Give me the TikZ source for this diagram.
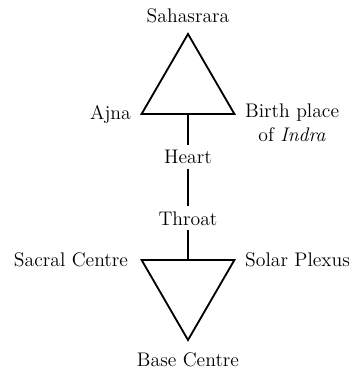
\documentclass[tikz,border=0pt]{standalone}
\usetikzlibrary{positioning}

\begin{document}
\begin{tikzpicture}[font=\fontsize{14}{17}\selectfont, line width=1.3pt,
  chakra/.style={inner sep=3pt}]
\useasboundingbox (0,0) rectangle (8.925,9.25);
% Corners of the two triangles
\coordinate (sah) at (4.7,8.4);
\coordinate (ajna) at (3.54,6.4);
\coordinate (indra) at (5.86,6.4);
\coordinate (sacral) at (3.54,2.75);
\coordinate (solar) at (5.86,2.75);
\coordinate (base) at (4.7,0.75);
\coordinate (upmid) at (4.7,6.4);
\coordinate (lowmid) at (4.7,2.75);

% Triangles
\draw (sah) -- (ajna) -- (indra) -- cycle;
\draw (sacral) -- (solar) -- (base) -- cycle;

% Centres on the axis
\node[chakra] (heart) at (4.7,5.325) {Heart};
\node[chakra] (throat) at (4.7,3.79) {Throat};
\draw (upmid) -- (heart);
\draw (heart) -- (throat);
\draw (throat) -- (lowmid);

% Corner labels
\node[chakra, above=4pt of sah] (sahasrara) {Sahasrara};
\node[chakra, left=4pt of ajna] (ajnalbl) {Ajna};
\node[chakra, right=4pt of indra, yshift=-6pt, align=center] (indralbl) {Birth place\\of \textit{Indra}};
\node[chakra, left=6pt of sacral] (sacrallbl) {Sacral Centre};
\node[chakra, right=4pt of solar] (solarlbl) {Solar Plexus};
\node[chakra, below=5.5pt of base] (baselbl) {Base Centre};
\end{tikzpicture}
\end{document}
